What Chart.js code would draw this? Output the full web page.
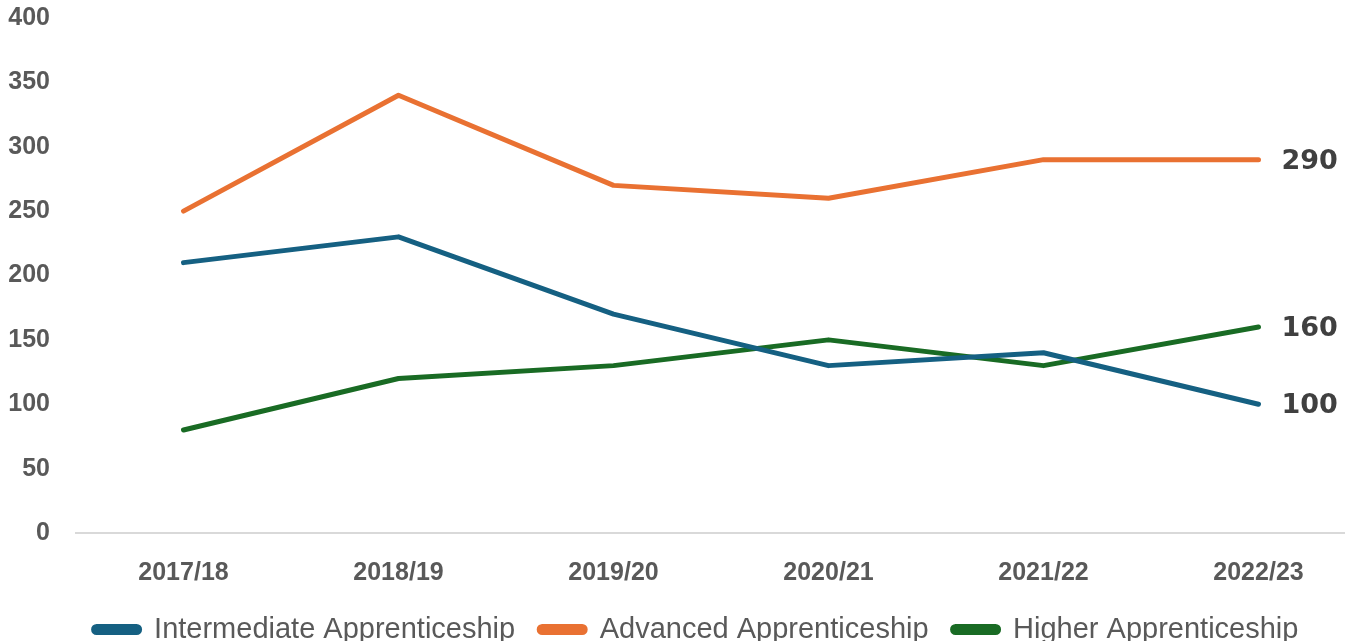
<!DOCTYPE html>
<html>
<head>
<meta charset="utf-8">
<script src="https://cdn.jsdelivr.net/npm/chart.js@4"></script>
<style>
  html, body { margin: 0; padding: 0; background: #fff; overflow: hidden; }
  #wrap { position: relative; width: 1372px; height: 654px; }
</style>
</head>
<body>
<div id="wrap"><canvas id="chart"></canvas></div>
<script>
// === DONNEES ===
const years = ["2017/18", "2018/19", "2019/20", "2020/21", "2021/22", "2022/23"];
const intermediate = [210, 230, 170, 130, 140, 100];
const advanced = [250, 340, 270, 260, 290, 290];
const higher = [80, 120, 130, 150, 130, 160];

const tickFont = { family: "'Liberation Sans', Arial, sans-serif", size: 25, weight: "bold" };

// étiquette de la dernière valeur à droite de chaque ligne
const endLabels = {
  id: "endLabels",
  afterDatasetsDraw(chart) {
    const ctx = chart.ctx;
    ctx.save();
    ctx.font = "bold 27px 'DejaVu Sans', sans-serif";
    ctx.fillStyle = "#404040";
    ctx.textBaseline = "middle";
    chart.data.datasets.forEach((ds, i) => {
      const pts = chart.getDatasetMeta(i).data;
      const last = pts[pts.length - 1];
      ctx.fillText(ds.data[ds.data.length - 1], last.x + 23, last.y + 2);
    });
    ctx.restore();
  }
};

// légende légèrement décalée vers la droite
const legendShift = {
  id: "legendShift",
  afterLayout(chart) {
    if (!chart.legend) return;
    chart.legend.left += 13;
    chart.legend.right += 13;
  }
};

new Chart(document.getElementById("chart"), {
  type: "line",
  data: {
    labels: years,
    datasets: [
      { label: "Intermediate Apprenticeship", data: intermediate, borderColor: "#156082", backgroundColor: "#156082" },
      { label: "Advanced Apprenticeship", data: advanced, borderColor: "#E97132", backgroundColor: "#E97132" },
      { label: "Higher Apprenticeship", data: higher, borderColor: "#196B24", backgroundColor: "#196B24" }
    ]
  },
  options: {
    responsive: true,
    maintainAspectRatio: false,
    animation: false,
    layout: { padding: { top: 18, left: 0, right: 6, bottom: 0 } },
    elements: {
      line: { borderWidth: 5, tension: 0, borderCapStyle: "round", borderJoinStyle: "round" },
      point: { radius: 0, hoverRadius: 0 }
    },
    plugins: {
      tooltip: { enabled: false },
      legend: {
        position: "bottom",
        labels: {
          boxWidth: 46,
          boxHeight: 6,
          useBorderRadius: true,
          borderRadius: 3,
          padding: 24,
          color: "#595959",
          font: { family: "'Liberation Sans Narrow', 'Liberation Sans', sans-serif", size: 29 }
        }
      }
    },
    scales: {
      x: {
        offset: true,
        afterFit: s => { s.height = 58; },
        grid: { display: false, drawTicks: false },
        border: { display: true, color: "#d9d9d9", width: 2 },
        ticks: { color: "#595959", font: tickFont, padding: 25 }
      },
      y: {
        min: 0,
        max: 400,
        afterFit: s => { s.width = 76; s.paddingTop = 0; s.paddingBottom = 0; },
        grid: { display: false, drawTicks: false },
        border: { display: false },
        ticks: { stepSize: 50, color: "#595959", font: tickFont, padding: 26 }
      }
    }
  },
  plugins: [endLabels, legendShift]
});
</script>
</body>
</html>
